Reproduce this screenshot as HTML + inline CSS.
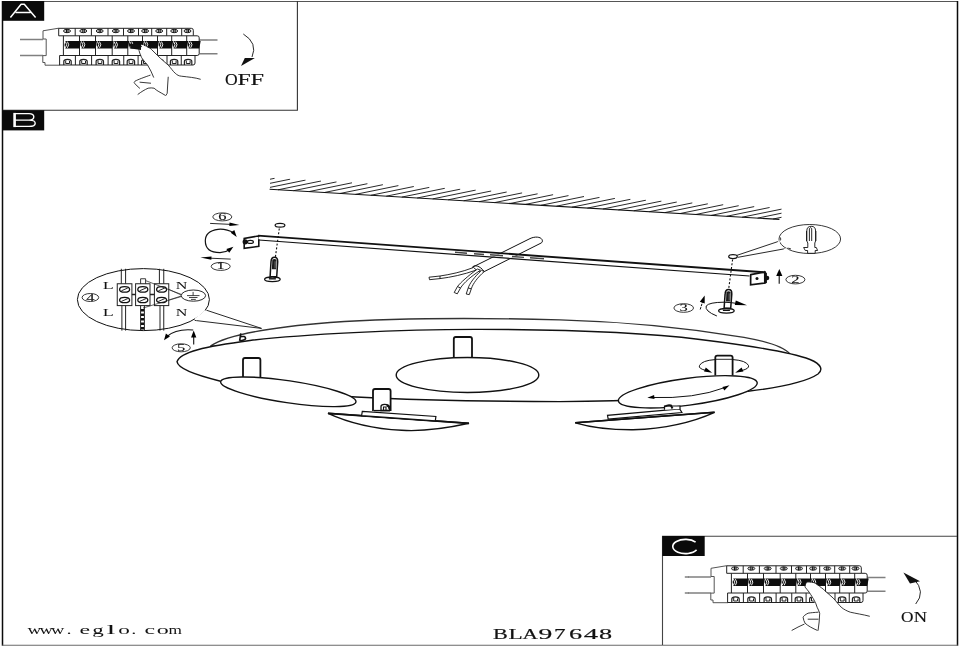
<!DOCTYPE html><html><head><meta charset="utf-8"><style>html,body{margin:0;padding:0;background:#fff;width:960px;height:647px;overflow:hidden}svg{display:block;filter:grayscale(1)}</style></head><body>
<svg width="960" height="647" viewBox="0 0 960 647" font-family="Liberation Serif">
<rect width="960" height="647" fill="#fff"/>
<path d="M2 1.5H958" stroke="#555" stroke-width="1.1" fill="none"/>
<path d="M2.5 1V645.7" stroke="#0a0a0a" stroke-width="1.5" fill="none"/>
<path d="M957.5 1V645.7" stroke="#0a0a0a" stroke-width="1.5" fill="none"/>
<path d="M2 645.2H958" stroke="#6a6a6a" stroke-width="1.1" fill="none"/>
<path d="M2 110.3H297.4V1" stroke="#333" stroke-width="1.1" fill="none"/>
<path d="M662.5 645V536.3H957" stroke="#444" stroke-width="1.1" fill="none"/>
<rect x="2" y="1" width="42.2" height="19.8" fill="#0a0a0a"/>
<path d="M10.4 17.5L21.1 4.3H24.3L35.6 17.5M15.6 12.6H30.6" stroke="#fff" stroke-width="1.5" fill="none" stroke-linejoin="round"/>
<rect x="2" y="110.2" width="42.2" height="20.2" fill="#0a0a0a"/>
<path d="M14.6 113.6H29Q33.8 113.6 33.8 116.8Q33.8 120.1 29 120.1H14.6M29 120.1Q35.2 120.1 35.2 123.2Q35.2 126.4 29 126.4H14.6" stroke="#fff" stroke-width="1.4" fill="none"/><rect x="13.3" y="112.9" width="2.6" height="14.2" fill="#fff"/>
<rect x="662.3" y="536" width="42.4" height="20" fill="#0a0a0a"/>
<path d="M695.6 542.2A12.7 7.1 0 1 0 696.6 549.9" stroke="#fff" stroke-width="1.6" fill="none"/>
<g fill="none" stroke="#222" stroke-width="1">
<path d="M20 39.6H43M20 55.4H43M199.5 39.9H217.5M199.5 53.8H217.5" stroke="#808080" stroke-width="1.5"/>
<path d="M58.7 28.2L43 30.8V39H46.2V55.6H42.8V62.5H45V65.2H60" stroke="#555" stroke-width="1"/>
<path d="M58.7 28.3H191.3Q193.3 28.3 193.3 30.3V35.8H58.7Z"/>
<path d="M75.2 28.3V35.8"/>
<path d="M91.4 28.3V35.8"/>
<path d="M108 28.3V35.8"/>
<path d="M123.5 28.3V35.8"/>
<path d="M138.5 28.3V35.8"/>
<path d="M151.7 28.3V35.8"/>
<path d="M166.7 28.3V35.8"/>
<path d="M181.7 28.3V35.8"/>
<ellipse cx="67.0" cy="31" rx="3.5" ry="1.7" stroke-width="1" fill="#ccc"/><path d="M66.5 29.2V32.8M68.0 29.6V32.4" stroke-width="1" stroke="#111"/>
<ellipse cx="83.3" cy="31" rx="3.5" ry="1.7" stroke-width="1" fill="#ccc"/><path d="M82.8 29.2V32.8M84.3 29.6V32.4" stroke-width="1" stroke="#111"/>
<ellipse cx="99.7" cy="31" rx="3.5" ry="1.7" stroke-width="1" fill="#ccc"/><path d="M99.2 29.2V32.8M100.7 29.6V32.4" stroke-width="1" stroke="#111"/>
<ellipse cx="115.8" cy="31" rx="3.5" ry="1.7" stroke-width="1" fill="#ccc"/><path d="M115.2 29.2V32.8M116.8 29.6V32.4" stroke-width="1" stroke="#111"/>
<ellipse cx="131.0" cy="31" rx="3.5" ry="1.7" stroke-width="1" fill="#ccc"/><path d="M130.5 29.2V32.8M132.0 29.6V32.4" stroke-width="1" stroke="#111"/>
<ellipse cx="145.1" cy="31" rx="3.5" ry="1.7" stroke-width="1" fill="#ccc"/><path d="M144.6 29.2V32.8M146.1 29.6V32.4" stroke-width="1" stroke="#111"/>
<ellipse cx="159.2" cy="31" rx="3.5" ry="1.7" stroke-width="1" fill="#ccc"/><path d="M158.7 29.2V32.8M160.2 29.6V32.4" stroke-width="1" stroke="#111"/>
<ellipse cx="174.2" cy="31" rx="3.5" ry="1.7" stroke-width="1" fill="#ccc"/><path d="M173.7 29.2V32.8M175.2 29.6V32.4" stroke-width="1" stroke="#111"/>
<ellipse cx="187.5" cy="31" rx="3.5" ry="1.7" stroke-width="1" fill="#ccc"/><path d="M187.0 29.2V32.8M188.5 29.6V32.4" stroke-width="1" stroke="#111"/>
<path d="M193.3 35.8H197.2Q199.2 35.8 199.2 37.8V53.5Q199.2 55.5 197.2 55.5H195"/>
<path d="M59.6 55.5H195"/>
<path d="M63.4 35.8V55.5"/>
<path d="M79.5 35.8V55.5"/>
<path d="M95.5 35.8V55.5"/>
<path d="M112.2 35.8V55.5"/>
<path d="M127.8 35.8V55.5"/>
<path d="M142.5 35.8V55.5"/>
<path d="M157.5 35.8V55.5"/>
<path d="M171.7 35.8V55.5"/>
<path d="M186.7 35.8V55.5"/>
<path d="M195 55.5V63Q195 65 193 65H59.6"/>
<path d="M59.6 55.5V65"/>
<path d="M75.4 55.5V65"/>
<path d="M91.6 55.5V65"/>
<path d="M108.1 55.5V65"/>
<path d="M123.75 55.5V65"/>
<path d="M138.1 55.5V65"/>
<path d="M152.5 55.5V65"/>
<path d="M167 55.5V65"/>
<path d="M181.25 55.5V65"/>
<path d="M63.8 65V61.5Q63.8 59.3 67.5 59.3Q71.2 59.3 71.2 61.5V65" stroke-width="1.2"/><path d="M65.7 60.5V63.5H69.5V61" stroke-width="1"/>
<path d="M79.8 65V61.5Q79.8 59.3 83.5 59.3Q87.2 59.3 87.2 61.5V65" stroke-width="1.2"/><path d="M81.7 60.5V63.5H85.5V61" stroke-width="1"/>
<path d="M96.1 65V61.5Q96.1 59.3 99.8 59.3Q103.5 59.3 103.5 61.5V65" stroke-width="1.2"/><path d="M98.0 60.5V63.5H101.8V61" stroke-width="1"/>
<path d="M112.2 65V61.5Q112.2 59.3 115.9 59.3Q119.6 59.3 119.6 61.5V65" stroke-width="1.2"/><path d="M114.1 60.5V63.5H117.9V61" stroke-width="1"/>
<path d="M127.2 65V61.5Q127.2 59.3 130.9 59.3Q134.6 59.3 134.6 61.5V65" stroke-width="1.2"/><path d="M129.1 60.5V63.5H132.9V61" stroke-width="1"/>
<path d="M141.6 65V61.5Q141.6 59.3 145.3 59.3Q149.0 59.3 149.0 61.5V65" stroke-width="1.2"/><path d="M143.5 60.5V63.5H147.3V61" stroke-width="1"/>
<path d="M156.1 65V61.5Q156.1 59.3 159.8 59.3Q163.4 59.3 163.4 61.5V65" stroke-width="1.2"/><path d="M157.9 60.5V63.5H161.8V61" stroke-width="1"/>
<path d="M170.4 65V61.5Q170.4 59.3 174.1 59.3Q177.8 59.3 177.8 61.5V65" stroke-width="1.2"/><path d="M172.3 60.5V63.5H176.1V61" stroke-width="1"/>
<path d="M184.4 65V61.5Q184.4 59.3 188.1 59.3Q191.8 59.3 191.8 61.5V65" stroke-width="1.2"/><path d="M186.3 60.5V63.5H190.1V61" stroke-width="1"/>
<path d="M65.4 40.9H81.0L79.5 48.5H65.4Q63.7 44.7 65.4 40.9Z" fill="#0d0d0d" stroke="none"/>
<path d="M65.4 41.6Q68.0 44.7 65.4 47.8M67.4 41.6Q70.0 44.7 67.4 47.8" stroke="#f0f0f0" stroke-width="1"/>
<path d="M81.5 40.9H97.0L95.5 48.5H81.5Q79.8 44.7 81.5 40.9Z" fill="#0d0d0d" stroke="none"/>
<path d="M81.5 41.6Q84.1 44.7 81.5 47.8M83.5 41.6Q86.1 44.7 83.5 47.8" stroke="#f0f0f0" stroke-width="1"/>
<path d="M97.5 40.9H113.7L112.2 48.5H97.5Q95.8 44.7 97.5 40.9Z" fill="#0d0d0d" stroke="none"/>
<path d="M97.5 41.6Q100.1 44.7 97.5 47.8M99.5 41.6Q102.1 44.7 99.5 47.8" stroke="#f0f0f0" stroke-width="1"/>
<path d="M114.2 40.9H129.3L127.8 48.5H114.2Q112.5 44.7 114.2 40.9Z" fill="#0d0d0d" stroke="none"/>
<path d="M114.2 41.6Q116.8 44.7 114.2 47.8M116.2 41.6Q118.8 44.7 116.2 47.8" stroke="#f0f0f0" stroke-width="1"/>
<path d="M129.8 40.9H144.0L142.5 48.5H129.8Q128.1 44.7 129.8 40.9Z" fill="#0d0d0d" stroke="none"/>
<path d="M129.8 41.6Q132.4 44.7 129.8 47.8M131.8 41.6Q134.4 44.7 131.8 47.8" stroke="#f0f0f0" stroke-width="1"/>
<path d="M144.5 40.9H159.0L157.5 48.5H144.5Q142.8 44.7 144.5 40.9Z" fill="#0d0d0d" stroke="none"/>
<path d="M144.5 41.6Q147.1 44.7 144.5 47.8M146.5 41.6Q149.1 44.7 146.5 47.8" stroke="#f0f0f0" stroke-width="1"/>
<path d="M159.5 40.9H173.2L171.7 48.5H159.5Q157.8 44.7 159.5 40.9Z" fill="#0d0d0d" stroke="none"/>
<path d="M159.5 41.6Q162.1 44.7 159.5 47.8M161.5 41.6Q164.1 44.7 161.5 47.8" stroke="#f0f0f0" stroke-width="1"/>
<path d="M173.7 40.9H188.2L186.7 48.5H173.7Q172.0 44.7 173.7 40.9Z" fill="#0d0d0d" stroke="none"/>
<path d="M173.7 41.6Q176.3 44.7 173.7 47.8M175.7 41.6Q178.3 44.7 175.7 47.8" stroke="#f0f0f0" stroke-width="1"/>
<path d="M188.7 40.9H200.7L199.2 48.5H188.7Q187.0 44.7 188.7 40.9Z" fill="#0d0d0d" stroke="none"/>
<path d="M188.7 41.6Q191.3 44.7 188.7 47.8M190.7 41.6Q193.3 44.7 190.7 47.8" stroke="#f0f0f0" stroke-width="1"/>
</g>
<path d="M141.6 44.5L151.5 49.5L168.2 65.1L175.2 73.2L181 76.2L153.6 77.2L147.6 65.1L142.6 59.1L139 50.5Z" fill="#fff" stroke="none"/><path d="M129 43.5L141 44.5L141 50L131 48.5Z" fill="#111"/><g fill="none" stroke="#222" stroke-width="0.9" stroke-linecap="round"><path d="M144 44.5C147 45.5 150 48 151.5 49.5L160.2 58.1L168.2 65.1C171 68 173 71.5 175.2 73.2C177 75 179 76 181.3 76.2C188 77 195 77.5 200.3 79.2"/><path d="M141.6 46.5C139.5 47.5 138.5 49 139 50.5C140 54 141 57 142.6 59.1C144 61.5 146 63 147.6 65.1C150 69 152 73 153.6 77.2"/><path d="M150.1 75.2C145 77 138 79.5 135 81.2C134 82 134 83 134.5 83.2C136 85 138 87 139.6 88.2M140 82.2L150.6 83.2"/><path d="M138 94.3C141 92 145 89.5 148.1 88.2C150 87.8 152.5 87.8 154.1 88.2C155.5 89.5 157 90.5 158.1 91.2C160.5 92.5 163 94 165.2 95.3"/><path d="M168.2 77.2C167.8 82 167.5 88 167.2 93.3L166 95.3"/></g>
<path d="M243.3 34Q258 43 252 57" stroke="#111" stroke-width="0.9" fill="none"/>
<path d="M241 66L244.8 57.9L254.9 57.9Z" fill="#111"/>
<text x="225.1" y="85" font-size="16.5" textLength="12.7" lengthAdjust="spacingAndGlyphs" fill="#111" stroke="#111" stroke-width="0.15">O</text>
<text x="237.6" y="85" font-size="16.5" textLength="13.2" lengthAdjust="spacingAndGlyphs" fill="#111" stroke="#111" stroke-width="0.15">F</text>
<text x="250.6" y="85" font-size="16.5" textLength="13.5" lengthAdjust="spacingAndGlyphs" fill="#111" stroke="#111" stroke-width="0.15">F</text>
<g transform="translate(668 537.5)">
<g fill="none" stroke="#222" stroke-width="1">
<path d="M20 39.6H43M20 55.4H43M199.5 39.9H217.5M199.5 53.8H217.5" stroke="#808080" stroke-width="1.5"/>
<path d="M58.7 28.2L43 30.8V39H46.2V55.6H42.8V62.5H45V65.2H60" stroke="#555" stroke-width="1"/>
<path d="M58.7 28.3H191.3Q193.3 28.3 193.3 30.3V35.8H58.7Z"/>
<path d="M75.2 28.3V35.8"/>
<path d="M91.4 28.3V35.8"/>
<path d="M108 28.3V35.8"/>
<path d="M123.5 28.3V35.8"/>
<path d="M138.5 28.3V35.8"/>
<path d="M151.7 28.3V35.8"/>
<path d="M166.7 28.3V35.8"/>
<path d="M181.7 28.3V35.8"/>
<ellipse cx="67.0" cy="31" rx="3.5" ry="1.7" stroke-width="1" fill="#ccc"/><path d="M66.5 29.2V32.8M68.0 29.6V32.4" stroke-width="1" stroke="#111"/>
<ellipse cx="83.3" cy="31" rx="3.5" ry="1.7" stroke-width="1" fill="#ccc"/><path d="M82.8 29.2V32.8M84.3 29.6V32.4" stroke-width="1" stroke="#111"/>
<ellipse cx="99.7" cy="31" rx="3.5" ry="1.7" stroke-width="1" fill="#ccc"/><path d="M99.2 29.2V32.8M100.7 29.6V32.4" stroke-width="1" stroke="#111"/>
<ellipse cx="115.8" cy="31" rx="3.5" ry="1.7" stroke-width="1" fill="#ccc"/><path d="M115.2 29.2V32.8M116.8 29.6V32.4" stroke-width="1" stroke="#111"/>
<ellipse cx="131.0" cy="31" rx="3.5" ry="1.7" stroke-width="1" fill="#ccc"/><path d="M130.5 29.2V32.8M132.0 29.6V32.4" stroke-width="1" stroke="#111"/>
<ellipse cx="145.1" cy="31" rx="3.5" ry="1.7" stroke-width="1" fill="#ccc"/><path d="M144.6 29.2V32.8M146.1 29.6V32.4" stroke-width="1" stroke="#111"/>
<ellipse cx="159.2" cy="31" rx="3.5" ry="1.7" stroke-width="1" fill="#ccc"/><path d="M158.7 29.2V32.8M160.2 29.6V32.4" stroke-width="1" stroke="#111"/>
<ellipse cx="174.2" cy="31" rx="3.5" ry="1.7" stroke-width="1" fill="#ccc"/><path d="M173.7 29.2V32.8M175.2 29.6V32.4" stroke-width="1" stroke="#111"/>
<ellipse cx="187.5" cy="31" rx="3.5" ry="1.7" stroke-width="1" fill="#ccc"/><path d="M187.0 29.2V32.8M188.5 29.6V32.4" stroke-width="1" stroke="#111"/>
<path d="M193.3 35.8H197.2Q199.2 35.8 199.2 37.8V53.5Q199.2 55.5 197.2 55.5H195"/>
<path d="M59.6 55.5H195"/>
<path d="M63.4 35.8V55.5"/>
<path d="M79.5 35.8V55.5"/>
<path d="M95.5 35.8V55.5"/>
<path d="M112.2 35.8V55.5"/>
<path d="M127.8 35.8V55.5"/>
<path d="M142.5 35.8V55.5"/>
<path d="M157.5 35.8V55.5"/>
<path d="M171.7 35.8V55.5"/>
<path d="M186.7 35.8V55.5"/>
<path d="M195 55.5V63Q195 65 193 65H59.6"/>
<path d="M59.6 55.5V65"/>
<path d="M75.4 55.5V65"/>
<path d="M91.6 55.5V65"/>
<path d="M108.1 55.5V65"/>
<path d="M123.75 55.5V65"/>
<path d="M138.1 55.5V65"/>
<path d="M152.5 55.5V65"/>
<path d="M167 55.5V65"/>
<path d="M181.25 55.5V65"/>
<path d="M63.8 65V61.5Q63.8 59.3 67.5 59.3Q71.2 59.3 71.2 61.5V65" stroke-width="1.2"/><path d="M65.7 60.5V63.5H69.5V61" stroke-width="1"/>
<path d="M79.8 65V61.5Q79.8 59.3 83.5 59.3Q87.2 59.3 87.2 61.5V65" stroke-width="1.2"/><path d="M81.7 60.5V63.5H85.5V61" stroke-width="1"/>
<path d="M96.1 65V61.5Q96.1 59.3 99.8 59.3Q103.5 59.3 103.5 61.5V65" stroke-width="1.2"/><path d="M98.0 60.5V63.5H101.8V61" stroke-width="1"/>
<path d="M112.2 65V61.5Q112.2 59.3 115.9 59.3Q119.6 59.3 119.6 61.5V65" stroke-width="1.2"/><path d="M114.1 60.5V63.5H117.9V61" stroke-width="1"/>
<path d="M127.2 65V61.5Q127.2 59.3 130.9 59.3Q134.6 59.3 134.6 61.5V65" stroke-width="1.2"/><path d="M129.1 60.5V63.5H132.9V61" stroke-width="1"/>
<path d="M141.6 65V61.5Q141.6 59.3 145.3 59.3Q149.0 59.3 149.0 61.5V65" stroke-width="1.2"/><path d="M143.5 60.5V63.5H147.3V61" stroke-width="1"/>
<path d="M156.1 65V61.5Q156.1 59.3 159.8 59.3Q163.4 59.3 163.4 61.5V65" stroke-width="1.2"/><path d="M157.9 60.5V63.5H161.8V61" stroke-width="1"/>
<path d="M170.4 65V61.5Q170.4 59.3 174.1 59.3Q177.8 59.3 177.8 61.5V65" stroke-width="1.2"/><path d="M172.3 60.5V63.5H176.1V61" stroke-width="1"/>
<path d="M184.4 65V61.5Q184.4 59.3 188.1 59.3Q191.8 59.3 191.8 61.5V65" stroke-width="1.2"/><path d="M186.3 60.5V63.5H190.1V61" stroke-width="1"/>
<path d="M65.4 40.9H81.0L79.5 48.5H65.4Q63.7 44.7 65.4 40.9Z" fill="#0d0d0d" stroke="none"/>
<path d="M65.4 41.6Q68.0 44.7 65.4 47.8M67.4 41.6Q70.0 44.7 67.4 47.8" stroke="#f0f0f0" stroke-width="1"/>
<path d="M81.5 40.9H97.0L95.5 48.5H81.5Q79.8 44.7 81.5 40.9Z" fill="#0d0d0d" stroke="none"/>
<path d="M81.5 41.6Q84.1 44.7 81.5 47.8M83.5 41.6Q86.1 44.7 83.5 47.8" stroke="#f0f0f0" stroke-width="1"/>
<path d="M97.5 40.9H113.7L112.2 48.5H97.5Q95.8 44.7 97.5 40.9Z" fill="#0d0d0d" stroke="none"/>
<path d="M97.5 41.6Q100.1 44.7 97.5 47.8M99.5 41.6Q102.1 44.7 99.5 47.8" stroke="#f0f0f0" stroke-width="1"/>
<path d="M114.2 40.9H129.3L127.8 48.5H114.2Q112.5 44.7 114.2 40.9Z" fill="#0d0d0d" stroke="none"/>
<path d="M114.2 41.6Q116.8 44.7 114.2 47.8M116.2 41.6Q118.8 44.7 116.2 47.8" stroke="#f0f0f0" stroke-width="1"/>
<path d="M129.8 40.9H144.0L142.5 48.5H129.8Q128.1 44.7 129.8 40.9Z" fill="#0d0d0d" stroke="none"/>
<path d="M129.8 41.6Q132.4 44.7 129.8 47.8M131.8 41.6Q134.4 44.7 131.8 47.8" stroke="#f0f0f0" stroke-width="1"/>
<path d="M144.5 40.9H159.0L157.5 48.5H144.5Q142.8 44.7 144.5 40.9Z" fill="#0d0d0d" stroke="none"/>
<path d="M144.5 41.6Q147.1 44.7 144.5 47.8M146.5 41.6Q149.1 44.7 146.5 47.8" stroke="#f0f0f0" stroke-width="1"/>
<path d="M159.5 40.9H173.2L171.7 48.5H159.5Q157.8 44.7 159.5 40.9Z" fill="#0d0d0d" stroke="none"/>
<path d="M159.5 41.6Q162.1 44.7 159.5 47.8M161.5 41.6Q164.1 44.7 161.5 47.8" stroke="#f0f0f0" stroke-width="1"/>
<path d="M173.7 40.9H188.2L186.7 48.5H173.7Q172.0 44.7 173.7 40.9Z" fill="#0d0d0d" stroke="none"/>
<path d="M173.7 41.6Q176.3 44.7 173.7 47.8M175.7 41.6Q178.3 44.7 175.7 47.8" stroke="#f0f0f0" stroke-width="1"/>
<path d="M188.7 40.9H200.7L199.2 48.5H188.7Q187.0 44.7 188.7 40.9Z" fill="#0d0d0d" stroke="none"/>
<path d="M188.7 41.6Q191.3 44.7 188.7 47.8M190.7 41.6Q193.3 44.7 190.7 47.8" stroke="#f0f0f0" stroke-width="1"/>
</g>
</g>
<path d="M684.8 577H689M684.8 592.9H689" stroke="#808080" stroke-width="1.5"/>
<path d="M806.5 582L815 583L833 598L841 607L850 612L819.7 613.2L817 607L809 592L805 587Z" fill="#fff" stroke="none"/><g fill="none" stroke="#222" stroke-width="0.9" stroke-linecap="round"><path d="M806.5 582.5C805 584 804.8 586 805.1 587.1C806.5 589 808 590.5 809.1 592.1C811 595 813 598 814.1 600.1C815.5 602.5 816.5 605 817.1 607.2C818 609 819 611 819.7 613.2C819.5 619 819 625 818.1 630.3"/><path d="M806.5 582.5C808 581 811 581.5 815.1 583.1C818 585 821 587.5 823.2 589.1L833.2 598.1C836 601 839 605 841.2 607.2C844 609.5 847 611 850.3 612.2C856 613.5 863 614.5 869.4 616.2"/><path d="M818.1 612.2C814 612.5 811 612.7 808.1 613.2C805.5 614.5 803.5 616 803.1 617.2C803.5 619.5 804 621.5 805.1 623.2C808 626 813 628.5 817.1 630.3M808.1 619.2L818.1 619.2"/><path d="M792 630.3C796 628 800 626 804.1 624.2"/></g>
<path d="M915.7 604Q926 592 914 579" stroke="#111" stroke-width="0.9" fill="none"/>
<path d="M903.4 572.5L910 583.5L920 581.2Z" fill="#111"/>
<text x="901.1" y="622" font-size="15.6" textLength="12.5" lengthAdjust="spacingAndGlyphs" fill="#111" stroke="#111" stroke-width="0.15">O</text>
<text x="913.7" y="622" font-size="15.6" textLength="13.3" lengthAdjust="spacingAndGlyphs" fill="#111" stroke="#111" stroke-width="0.15">N</text>
<defs><clipPath id="hc"><path d="M270 177.2L781.5 207.2V221H270Z"/></clipPath></defs>
<g clip-path="url(#hc)"><path d="M231.6 187.1l43 -8.8M247.1 188.0l43 -8.8M262.5 188.9l43 -8.8M278.0 189.8l43 -8.8M293.5 190.7l43 -8.8M309.0 191.6l43 -8.8M324.4 192.5l43 -8.8M339.9 193.5l43 -8.8M355.4 194.4l43 -8.8M370.8 195.3l43 -8.8M386.3 196.2l43 -8.8M401.8 197.1l43 -8.8M417.2 198.0l43 -8.8M432.7 198.9l43 -8.8M448.2 199.8l43 -8.8M463.7 200.8l43 -8.8M479.1 201.7l43 -8.8M494.6 202.6l43 -8.8M510.1 203.5l43 -8.8M525.5 204.4l43 -8.8M541.0 205.3l43 -8.8M556.5 206.2l43 -8.8M571.9 207.2l43 -8.8M587.4 208.1l43 -8.8M602.9 209.0l43 -8.8M618.4 209.9l43 -8.8M633.8 210.8l43 -8.8M649.3 211.7l43 -8.8M664.8 212.6l43 -8.8M680.2 213.5l43 -8.8M695.7 214.5l43 -8.8M711.2 215.4l43 -8.8M726.6 216.3l43 -8.8M742.1 217.2l43 -8.8M757.6 218.1l43 -8.8M773.1 219.0l43 -8.8M788.5 219.9l43 -8.8" stroke="#111" stroke-width="0.9" fill="none"/></g>
<path d="M269.6 189.3L779.4 219.4" stroke="#111" stroke-width="1.1" fill="none"/>
<path d="M472.5 267.2L530 238.6C535 236.2 540.5 236.8 542 239.5C543 241.5 542 242.6 541 243.1L484.2 271.6C481 273 475 271 472.5 267.2Z" stroke="#111" stroke-width="1" fill="#fff"/>
<path d="M472.5 267.2C474 264.5 480 265.5 484.2 271.6" stroke="#111" stroke-width="1" fill="none"/>
<path d="M473.5 267.5C462 272 450 274.5 440 276L429 277.2L429.5 279.7L440 278.6C451 277.2 463 274.8 476.5 270Z M440 276V278.6" stroke="#111" stroke-width="0.9" fill="#fff"/>
<path d="M477.5 269C468 276 460.5 282.5 457.5 286.5L454.2 292.5L457.3 293.8L460.5 288C464 282.5 471 276.5 480.5 270.2Z M457.5 286.5L460.5 288" stroke="#111" stroke-width="0.9" fill="#fff"/>
<path d="M481.5 270.3C474.5 277 469.5 283.5 468.2 288L466.2 294L469.3 294.6L471.3 288.8C473 283.5 477.5 277.5 484.3 271.5Z M468.2 288L471.3 288.8" stroke="#111" stroke-width="0.9" fill="#fff"/>
<path d="M258.8 236V246.3L244.2 248.3V238.5L258 236" stroke="#111" stroke-width="1.6" fill="#fff"/>
<circle cx="245.2" cy="241.8" r="2.6" fill="#111"/><ellipse cx="250.4" cy="241.9" rx="3" ry="1.5" fill="#fff" stroke="#111" stroke-width="1.2"/>
<path d="M750.7 274.6L764.8 272V283L750.6 284.8Z" stroke="#111" stroke-width="1.7" fill="#fff"/>
<path d="M764.8 272L766.3 273.5V282.5L764.8 283Z" fill="#111" stroke="#111" stroke-width="1.2"/>
<circle cx="757" cy="278.4" r="1.5" fill="#111"/><circle cx="767" cy="278" r="2.3" fill="#111"/>
<path d="M258.5 238L749.5 274" stroke="#fff" stroke-width="2.6" fill="none"/>
<path d="M258 235.7L764.7 272.3" stroke="#111" stroke-width="1.8" fill="none"/>
<path d="M258.8 240L749.5 276" stroke="#111" stroke-width="1.2" fill="none"/>
<path d="M455 252.3l12 0.88M474 253.7l10 0.73M490 254.8l13 0.95M512 256.5l12 0.88M530 257.8l14 1.02" stroke="#444" stroke-width="1.4"/>
<ellipse cx="280" cy="225.3" rx="4.9" ry="1.9" fill="#fff" stroke="#111" stroke-width="1.2"/>
<path d="M279.3 228.5L275.4 257" stroke="#111" stroke-width="1.1" stroke-dasharray="2 1.8" fill="none"/>
<path d="M271.0 261.8Q271.2 257.3 274.5 257.3Q277.8 257.3 277.7 261.8L276.7 276.8H270.1Z" fill="#fff" stroke="#111" stroke-width="1.5"/><path d="M272.3 259.8Q274.5 258.3 276.5 259.8L276.1 269.3H271.9Z" fill="#1a1a1a"/><path d="M275.1 261.3V268.3" stroke="#888" stroke-width="0.8"/><ellipse cx="272.4" cy="279.3" rx="7.8" ry="2.3" fill="#fff" stroke="#111" stroke-width="1.3"/><path d="M268.9 278.8H275.9" stroke="#111" stroke-width="1.4"/>
<ellipse cx="733" cy="256.6" rx="4.3" ry="2" fill="#fff" stroke="#111" stroke-width="1.2"/>
<path d="M732.6 259.5L728.6 289.5" stroke="#111" stroke-width="1.1" stroke-dasharray="2 1.8" fill="none"/>
<path d="M725.1 293.9Q725.3 289.4 728.6 289.4Q731.9 289.4 731.8 293.9L730.7 308.3H724.1Z" fill="#fff" stroke="#111" stroke-width="1.5"/><path d="M726.4 291.9Q728.6 290.4 730.6 291.9L730.2 301.4H726.0Z" fill="#1a1a1a"/><path d="M729.2 293.4V300.4" stroke="#888" stroke-width="0.8"/><ellipse cx="726.4" cy="310.8" rx="7.8" ry="2.3" fill="#fff" stroke="#111" stroke-width="1.3"/><path d="M722.9 310.3H729.9" stroke="#111" stroke-width="1.4"/>
<ellipse cx="222.3" cy="216.9" rx="9.5" ry="4" fill="#fff" stroke="#222" stroke-width="0.9"/><text x="222.3" y="220.4" text-anchor="middle" font-family="Liberation Serif" font-size="11" transform="translate(222.3 216.9) scale(1.5 0.88) translate(-222.3 -216.9)" fill="#111" stroke="#111" stroke-width="0.12">6</text>
<path d="M210.1 223.4L233 224.5" stroke="#111" stroke-width="0.9"/>
<path d="M239.4 225.0L229.3 226.0L229.5 222.6Z" fill="#000" stroke="none"/>
<path d="M234 233Q226 228.5 218 229.3Q205.3 231 205.3 240.7Q205.3 252.6 220 252.6Q226 252.3 231 249" stroke="#111" stroke-width="1.2" fill="none"/>
<path d="M236.7 236.9L230.7 232.7L234.3 229.9Z" fill="#000" stroke="none"/>
<path d="M233.4 246.7L229.2 252.7L226.4 249.1Z" fill="#000" stroke="none"/>
<path d="M208 258.1L230.7 259.1" stroke="#111" stroke-width="0.9"/>
<path d="M200.4 257.5L211.5 256.4L211.3 259.7Z" fill="#000" stroke="none"/>
<ellipse cx="220.7" cy="266.4" rx="9.5" ry="4" fill="#fff" stroke="#222" stroke-width="0.9"/><text x="220.7" y="269.9" text-anchor="middle" font-family="Liberation Serif" font-size="11" transform="translate(220.7 266.4) scale(1.5 0.88) translate(-220.7 -266.4)" fill="#111" stroke="#111" stroke-width="0.12">1</text>
<path d="M779.2 283.7V275" stroke="#111" stroke-width="1.1"/>
<path d="M779.3 269.1L782.4 275.9L776.2 275.9Z" fill="#000" stroke="none"/>
<ellipse cx="795.4" cy="279.6" rx="9.5" ry="4.3" fill="#fff" stroke="#222" stroke-width="0.9"/><text x="795.4" y="283.1" text-anchor="middle" font-family="Liberation Serif" font-size="11" transform="translate(795.4 279.6) scale(1.5 0.88) translate(-795.4 -279.6)" fill="#111" stroke="#111" stroke-width="0.12">2</text>
<ellipse cx="683.7" cy="308" rx="9.8" ry="4.3" fill="#fff" stroke="#222" stroke-width="0.9"/><text x="683.7" y="311.5" text-anchor="middle" font-family="Liberation Serif" font-size="11" transform="translate(683.7 308) scale(1.5 0.88) translate(-683.7 -308)" fill="#111" stroke="#111" stroke-width="0.12">3</text>
<path d="M700.2 309.5L702.8 301" stroke="#111" stroke-width="1" stroke-dasharray="2.5 1"/>
<path d="M704.7 295.5L704.7 303.4L699.8 301.7Z" fill="#000" stroke="none"/>
<path d="M716.9 316Q704.5 311 706.2 306Q709 302.3 724 302.2Q732 302.5 738 303.6" stroke="#111" stroke-width="1" fill="none"/>
<path d="M747.0 305.3L734.8 304.9L735.8 300.6Z" fill="#000" stroke="none"/>
<path d="M737 255.3L779.4 241.1M738 257.3L786.7 248.4" stroke="#111" stroke-width="0.9" fill="none"/>
<ellipse cx="809.8" cy="239" rx="30.8" ry="14.5" fill="#fff" stroke="#222" stroke-width="0.9"/>
<path d="M778 243L781 240M784 250L789 248" stroke="#fff" stroke-width="2"/>
<path d="M779.4 241.1Q781.5 240.5 780.5 237.5M786.7 248.4Q789 247.8 791 249" stroke="#222" stroke-width="0.9" fill="none"/>
<path d="M806.8 241L807.8 243V247.5H803.6L805.3 250.5H807.6V253.3H815.2V250.5H817.6L816.3 247.5H814.8V243L815.6 241V231Q815.6 226.3 811.2 226.3Q806.8 226.3 806.8 231Z" fill="#fff" stroke="#111" stroke-width="0.9"/>
<path d="M806.8 231Q805.8 232.0 806.8 233.0Q805.8 234.0 806.8 235.0Q805.8 236.0 806.8 237.0Q805.8 238.0 806.8 239.0Q805.8 240.0 806.8 241.0M815.6 241Q816.6 240.0 815.6 239.0Q816.6 238.0 815.6 237.0Q816.6 236.0 815.6 235.0Q816.6 234.0 815.6 233.0Q816.6 232.0 815.6 231.0" fill="none" stroke="#111" stroke-width="0.9"/>
<path d="M809.4 241V228.5Q810.5 226.8 811.7 228.5V241" fill="none" stroke="#111" stroke-width="0.9"/>
<path d="M206.4 310.2L261.5 328.4L194.7 320.4" stroke="#111" stroke-width="0.9" fill="none"/>
<ellipse cx="143.4" cy="299.6" rx="66" ry="31" fill="#fff" stroke="#111" stroke-width="1"/>
<path d="M195.5 319.5Q201.5 315.5 205.8 310.8" stroke="#fff" stroke-width="2.6" fill="none"/>
<text x="102.8" y="288.8" font-size="11.3" textLength="11.0" lengthAdjust="spacingAndGlyphs" fill="#111" stroke="#111" stroke-width="0">L</text>
<text x="102.8" y="316.3" font-size="11.3" textLength="11.0" lengthAdjust="spacingAndGlyphs" fill="#111" stroke="#111" stroke-width="0">L</text>
<text x="175.8" y="288.8" font-size="11.3" textLength="11.6" lengthAdjust="spacingAndGlyphs" fill="#111" stroke="#111" stroke-width="0">N</text>
<text x="175.8" y="316.3" font-size="11.3" textLength="11.6" lengthAdjust="spacingAndGlyphs" fill="#111" stroke="#111" stroke-width="0">N</text>
<ellipse cx="90.4" cy="297.5" rx="8.3" ry="4" fill="#fff" stroke="#222" stroke-width="0.9"/><text x="90.4" y="301.0" text-anchor="middle" font-family="Liberation Serif" font-size="11" transform="translate(90.4 297.5) scale(1.5 0.88) translate(-90.4 -297.5)" fill="#111" stroke="#111" stroke-width="0.12">4</text>
<rect x="117.25" y="283.75" width="14.65" height="21.85" fill="#fff" stroke="#222" stroke-width="1"/><ellipse cx="124.6" cy="289.4" rx="5" ry="2.7" fill="#fff" stroke="#111" stroke-width="1.3"/><path d="M121.4 290.79999999999995L127.8 288.0" stroke="#111" stroke-width="0.9"/><ellipse cx="124.6" cy="300" rx="5" ry="2.7" fill="#fff" stroke="#111" stroke-width="1.3"/><path d="M121.4 301.4L127.8 298.6" stroke="#111" stroke-width="0.9"/><rect x="135.6" y="283.75" width="14.40" height="21.85" fill="#fff" stroke="#222" stroke-width="1"/><ellipse cx="142.8" cy="289.4" rx="5" ry="2.7" fill="#fff" stroke="#111" stroke-width="1.3"/><path d="M139.6 290.79999999999995L146.0 288.0" stroke="#111" stroke-width="0.9"/><ellipse cx="142.8" cy="300" rx="5" ry="2.7" fill="#fff" stroke="#111" stroke-width="1.3"/><path d="M139.6 301.4L146.0 298.6" stroke="#111" stroke-width="0.9"/><rect x="154.4" y="283.75" width="14.35" height="21.85" fill="#fff" stroke="#222" stroke-width="1"/><ellipse cx="161.6" cy="289.4" rx="5" ry="2.7" fill="#fff" stroke="#111" stroke-width="1.3"/><path d="M158.4 290.79999999999995L164.8 288.0" stroke="#111" stroke-width="0.9"/><ellipse cx="161.6" cy="300" rx="5" ry="2.7" fill="#fff" stroke="#111" stroke-width="1.3"/><path d="M158.4 301.4L164.8 298.6" stroke="#111" stroke-width="0.9"/>
<path d="M131.9 294.5H135.6M150 294.5H154.4" stroke="#222" stroke-width="1.6"/>
<path d="M121.3 268.8V283.75M125.6 268.8V283.75M159.4 268.8V283.75M163.75 268.8V283.75M121.9 305.6V330.6M125.6 305.6V330.6M160 305.6V330.6M163.75 305.6V330.6M140.6 305.6V330.6M144.4 305.6V330.6" stroke="#222" stroke-width="1" fill="none"/>
<path d="M142.5 309V330.5" stroke="#111" stroke-width="3" stroke-dasharray="2.5 2"/>
<path d="M140.6 283.75V278.75H145.6V283.75" stroke="#222" stroke-width="0.9" fill="none"/>
<path d="M145.6 280.6L181.3 294.4M168.75 289.4L181.3 295M168.75 300L181.3 296M143 308L181.3 296.5" stroke="#222" stroke-width="0.7" fill="none"/>
<ellipse cx="193.4" cy="295.6" rx="12.2" ry="5.6" fill="#fff" stroke="#111" stroke-width="0.9"/>
<path d="M193.1 291.9V295.6M187 295.6H199.5M189 297.5H197.5M191 299.4H195.8" stroke="#111" stroke-width="0.8"/>
<ellipse cx="181.2" cy="347.8" rx="9.1" ry="4" fill="#fff" stroke="#222" stroke-width="0.9"/><text x="181.2" y="351.3" text-anchor="middle" font-family="Liberation Serif" font-size="11" transform="translate(181.2 347.8) scale(1.5 0.88) translate(-181.2 -347.8)" fill="#111" stroke="#111" stroke-width="0.12">5</text>
<path d="M193.7 344.5V336" stroke="#111" stroke-width="1.1"/>
<path d="M193.7 330.4L196.3 337.4L191.1 337.4Z" fill="#000" stroke="none"/>
<path d="M193.2 330Q176 328.5 167 336.5" stroke="#111" stroke-width="1.1" fill="none"/>
<path d="M164.0 340.3L165.9 333.6L169.9 336.6Z" fill="#000" stroke="none"/>
<g stroke="#111" stroke-width="1.4" fill="#fff" stroke-linejoin="round"><path d="M210.8 345.8C225 336 262 328 330 322.5C400 317.5 470 317.5 560 319.8C640 322 706 331 744 337.3C770 342 784 347 790 354Z" stroke="#333" stroke-width="1.35"/><path d="M177 361.7C180 352 205 346.5 250 340.5C300 334.5 400 329.2 480 329.4C560 329.5 640 332 700 339.5C745 345 790 352 810 359.5C822 364.5 823 370 818 374C805 383 775 388 748 391.3C700 397.5 640 401.5 560 401.6C480 401.4 420 400.5 356 397C300 393 250 387 220.6 381.2C195 375 178 369 177 361.7Z"/></g>
<path d="M240.8 333.3L239.6 340.8M240 336.8Q245.6 335.6 245.6 338.4Q245.3 340.4 239.6 340.8" stroke="#111" stroke-width="1.6" fill="none"/>
<path d="M243 378.6V360Q243 358 245 358H258.4Q260.4 358 260.4 360V378.6" fill="#fff" stroke="#111" stroke-width="1.8"/>
<path d="M453.8 357.5V339Q453.8 337 455.8 337H470.0Q472.0 337 472.0 339V357.5" fill="#fff" stroke="#111" stroke-width="1.8"/>
<ellipse cx="467.5" cy="375" rx="71.3" ry="17.5" fill="#fff" stroke="#111" stroke-width="1.4"/>
<ellipse cx="288.3" cy="391.8" rx="68.4" ry="11" transform="rotate(8.5 288.3 391.8)" fill="#fff" stroke="#111" stroke-width="1.4"/>
<path d="M706 370.5Q698 368.5 699.5 365.5Q702 360.5 715 359.6M733 359.6Q746 360.5 748.5 365.5Q749.5 368.5 742 370.5" stroke="#111" stroke-width="1" fill="none"/>
<path d="M715.3 375.6V357.6Q715.3 355.6 717.3 355.6H730.5999999999999Q732.5999999999999 355.6 732.5999999999999 357.6V375.6" fill="#fff" stroke="#111" stroke-width="1.8"/>
<path d="M715.3 359.3H732.6" stroke="#111" stroke-width="0.9"/>
<path d="M712.2 372.7L704.0 371.4L705.8 367.4Z" fill="#000" stroke="none"/>
<path d="M735.2 372.7L741.6 367.4L743.4 371.4Z" fill="#000" stroke="none"/>
<ellipse cx="687.8" cy="391.8" rx="70" ry="13.4" transform="rotate(-7.5 687.8 391.8)" fill="#fff" stroke="#111" stroke-width="1.4"/>
<path d="M651 397.5Q695 399 725 387.5" stroke="#111" stroke-width="1" fill="none"/>
<path d="M647.3 397.7L654.1 395.0L654.5 399.0Z" fill="#000" stroke="none"/>
<path d="M729.5 385.3L724.3 390.4L722.4 386.9Z" fill="#000" stroke="none"/>
<path d="M373 411V391Q373 389 375 389H388.6Q390.6 389 390.6 391V411" fill="#fff" stroke="#111" stroke-width="1.8"/>
<path d="M381 410.5V406.5Q381 404.3 384.5 404.3Q389.5 404.3 389.5 407.5V410.5Z" stroke="#111" stroke-width="1.3" fill="#fff"/><path d="M383.5 410V407H386V410" stroke="#111" stroke-width="1.1" fill="none"/><path d="M386.5 405.5Q389.5 405.5 389.5 409" stroke="#111" stroke-width="2" fill="none"/><path d="M374 410.6H390" stroke="#111" stroke-width="1.4"/>
<path d="M328 413.3L469 423.3Q430 432 401.7 430.3Q360 428 328 413.3Z" fill="#fff" stroke="#111" stroke-width="1.4"/>
<path d="M328 413.3L469 423.3" stroke="#111" stroke-width="1.7"/>
<path d="M362.3 411.4L435.9 416.5L435.3 420.8L361.6 415.7Z" fill="#fff" stroke="#111" stroke-width="1.2"/>
<path d="M575.2 422.8L714.6 412.3Q680 428 633 429.8Q600 430 575.2 422.8Z" fill="#fff" stroke="#111" stroke-width="1.4"/>
<path d="M575.2 422.8L714.6 412.3" stroke="#111" stroke-width="1.6"/>
<path d="M608.2 419.1L607.5 415.4L679.7 408.9L681.9 412.5Z" fill="#fff" stroke="#111" stroke-width="1.2"/>
<path d="M664.5 409.8V406H680V409" stroke="#111" stroke-width="1.2" fill="#fff"/><path d="M665 406.5Q668 404.5 671 405.5L672.5 408.5" stroke="#111" stroke-width="2" fill="none"/>
<text x="27.6" y="634.2" font-family="Liberation Serif" font-size="11.5" font-weight="normal" textLength="13.7" lengthAdjust="spacingAndGlyphs" fill="#111" stroke="#111" stroke-width="0">w</text><text x="39.5" y="634.2" font-family="Liberation Serif" font-size="11.5" font-weight="normal" textLength="13.3" lengthAdjust="spacingAndGlyphs" fill="#111" stroke="#111" stroke-width="0">w</text><text x="51" y="634.2" font-family="Liberation Serif" font-size="11.5" font-weight="normal" textLength="13.3" lengthAdjust="spacingAndGlyphs" fill="#111" stroke="#111" stroke-width="0">w</text><text x="66.5" y="634.2" font-family="Liberation Serif" font-size="11.5" font-weight="normal" textLength="5.1" lengthAdjust="spacingAndGlyphs" fill="#111" stroke="#111" stroke-width="0">.</text><text x="79.6" y="634.2" font-family="Liberation Serif" font-size="11.5" font-weight="normal" textLength="10.6" lengthAdjust="spacingAndGlyphs" fill="#111" stroke="#111" stroke-width="0">e</text><text x="92.3" y="634.2" font-family="Liberation Serif" font-size="11.5" font-weight="normal" textLength="11.5" lengthAdjust="spacingAndGlyphs" fill="#111" stroke="#111" stroke-width="0">g</text><text x="106.5" y="634.2" font-family="Liberation Serif" font-size="11.5" font-weight="normal" textLength="9.0" lengthAdjust="spacingAndGlyphs" fill="#111" stroke="#111" stroke-width="0">l</text><text x="118.3" y="634.2" font-family="Liberation Serif" font-size="11.5" font-weight="normal" textLength="11.6" lengthAdjust="spacingAndGlyphs" fill="#111" stroke="#111" stroke-width="0">o</text><text x="131.2" y="634.2" font-family="Liberation Serif" font-size="11.5" font-weight="normal" textLength="5.1" lengthAdjust="spacingAndGlyphs" fill="#111" stroke="#111" stroke-width="0">.</text><text x="144.6" y="634.2" font-family="Liberation Serif" font-size="11.5" font-weight="normal" textLength="10.6" lengthAdjust="spacingAndGlyphs" fill="#111" stroke="#111" stroke-width="0">c</text><text x="156.8" y="634.2" font-family="Liberation Serif" font-size="11.5" font-weight="normal" textLength="12.0" lengthAdjust="spacingAndGlyphs" fill="#111" stroke="#111" stroke-width="0">o</text><text x="168.6" y="634.2" font-family="Liberation Serif" font-size="11.5" font-weight="normal" textLength="13.4" lengthAdjust="spacingAndGlyphs" fill="#111" stroke="#111" stroke-width="0">m</text>
<text x="493" y="638.6" font-family="Liberation Serif" font-size="14.6" font-weight="normal" textLength="14.8" lengthAdjust="spacingAndGlyphs" fill="#111" stroke="#111" stroke-width="0.18">B</text><text x="508.6" y="638.6" font-family="Liberation Serif" font-size="14.6" font-weight="normal" textLength="14.2" lengthAdjust="spacingAndGlyphs" fill="#111" stroke="#111" stroke-width="0.18">L</text><text x="522.6" y="638.6" font-family="Liberation Serif" font-size="14.6" font-weight="normal" textLength="15.4" lengthAdjust="spacingAndGlyphs" fill="#111" stroke="#111" stroke-width="0.18">A</text><text x="538.6" y="638.6" font-family="Liberation Serif" font-size="14.6" font-weight="normal" textLength="13.8" lengthAdjust="spacingAndGlyphs" fill="#111" stroke="#111" stroke-width="0.18">9</text><text x="554" y="638.6" font-family="Liberation Serif" font-size="14.6" font-weight="normal" textLength="11.6" lengthAdjust="spacingAndGlyphs" fill="#111" stroke="#111" stroke-width="0.18">7</text><text x="569.1" y="638.6" font-family="Liberation Serif" font-size="14.6" font-weight="normal" textLength="13.1" lengthAdjust="spacingAndGlyphs" fill="#111" stroke="#111" stroke-width="0.18">6</text><text x="583.7" y="638.6" font-family="Liberation Serif" font-size="14.6" font-weight="normal" textLength="14.3" lengthAdjust="spacingAndGlyphs" fill="#111" stroke="#111" stroke-width="0.18">4</text><text x="599.1" y="638.6" font-family="Liberation Serif" font-size="14.6" font-weight="normal" textLength="13.1" lengthAdjust="spacingAndGlyphs" fill="#111" stroke="#111" stroke-width="0.18">8</text>
</svg></body></html>
